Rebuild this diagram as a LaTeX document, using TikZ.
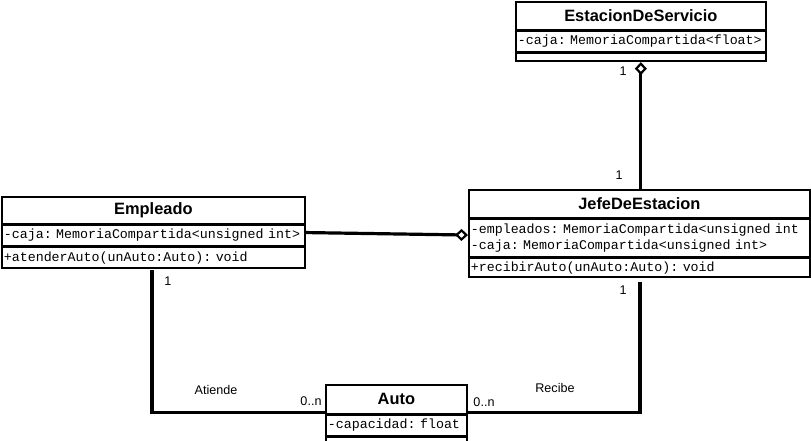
\documentclass[tikz,border=0pt]{standalone}
\usepackage{fontspec}
\usetikzlibrary{arrows.meta}
\newfontfamily\sansfam{Liberation Sans}
\newfontfamily\monofam{Liberation Mono}
\newcommand{\titletxt}{\sansfam\bfseries\fontsize{16.4}{18}\selectfont}
\newcommand{\codetxt}{\monofam\fontsize{13.3}{16}\selectfont}
\newcommand{\labeltxt}{\sansfam\fontsize{12.6}{14}\selectfont}
\tikzset{
    TT/.style ={rectangle, draw, line width=1.7pt, anchor=north west, inner sep=0pt, minimum height=28pt, minimum width=#1, font=\titletxt},
    AT/.style ={rectangle, draw, line width=1.7pt, anchor=north west, inner xsep=2pt, inner ysep=0pt, text width=#1, align=left, font=\codetxt},
    CN/.style ={line width=3.2pt},
    AG/.style ={-{Diamond[open, length=13pt, width=12pt, line width=2.2pt]}},
    LB/.style ={inner sep=0pt, font=\labeltxt}}

\begin{document}
\begin{tikzpicture}[x=1pt, y=-1pt]
        \useasboundingbox (0,0) rectangle (811,441);
        % EstacionDeServicio
        \node[TT=250pt] (S1) at (515,1) {EstacionDeServicio};
        \node[AT=246pt, minimum height=20pt] (S2) at (S1.south west) {-caja:~MemoriaCompartida<float>};
        \node[AT=246pt, minimum height=8pt] (S3) at (S2.south west) {};
        % Empleado
        \node[TT=303pt, minimum height=27pt] (E1) at (1,196) {Empleado};
        \node[AT=299pt, minimum height=20pt] (E2) at (E1.south west) {-caja:~MemoriaCompartida<unsigned~int>};
        \node[AT=299pt, minimum height=21pt] (E3) at (E2.south west) {+atenderAuto(unAuto:Auto):~void};
        % JefeDeEstacion
        \node[TT=341pt] (J1) at (468,189) {JefeDeEstacion};
        \node[AT=337pt, minimum height=37pt] (J2) at (J1.south west) {-empleados:~MemoriaCompartida<unsigned~int\\-caja:~MemoriaCompartida<unsigned~int>};
        \node[AT=337pt, minimum height=19pt] (J3) at (J2.south west) {+recibirAuto(unAuto:Auto):~void};
        % Auto
        \node[TT=141pt, minimum height=29pt] (A1) at (325,384) {Auto};
        \node[AT=137pt, minimum height=20pt] (A2) at (A1.south west) {-capacidad:~float};
        \node[AT=137pt, minimum height=7pt] (A3) at (A2.south west) {};
        % relaciones
        \coordinate (e0) at (152,270);
        \coordinate (j0) at (640,282);
        \draw[CN, AG] ([yshift=3pt]E2.east) -- ([yshift=3pt]J2.west);
        \draw[CN, AG] (S3.south |- J1.north) -- (S3.south);
        \draw[CN] (e0) |- ([yshift=2pt]A1.south west);
        \draw[CN] (j0) |- ([yshift=2pt]A1.south east);
        % multiplicidades
        \node[LB] (m1) at (623,71) {1};
        \node[LB] (m2) at (619,175) {1};
        \node[LB] (m3) at (168,281) {1};
        \node[LB] (m4) at (311,401) {0..n};
        \node[LB] (m5) at (623,290) {1};
        \node[LB] (m6) at (484,402) {0..n};
        \node[LB] (r1) at (216,390) {Atiende};
        \node[LB] (r2) at (555,388) {Recibe};
    \end{tikzpicture}
\end{document}
